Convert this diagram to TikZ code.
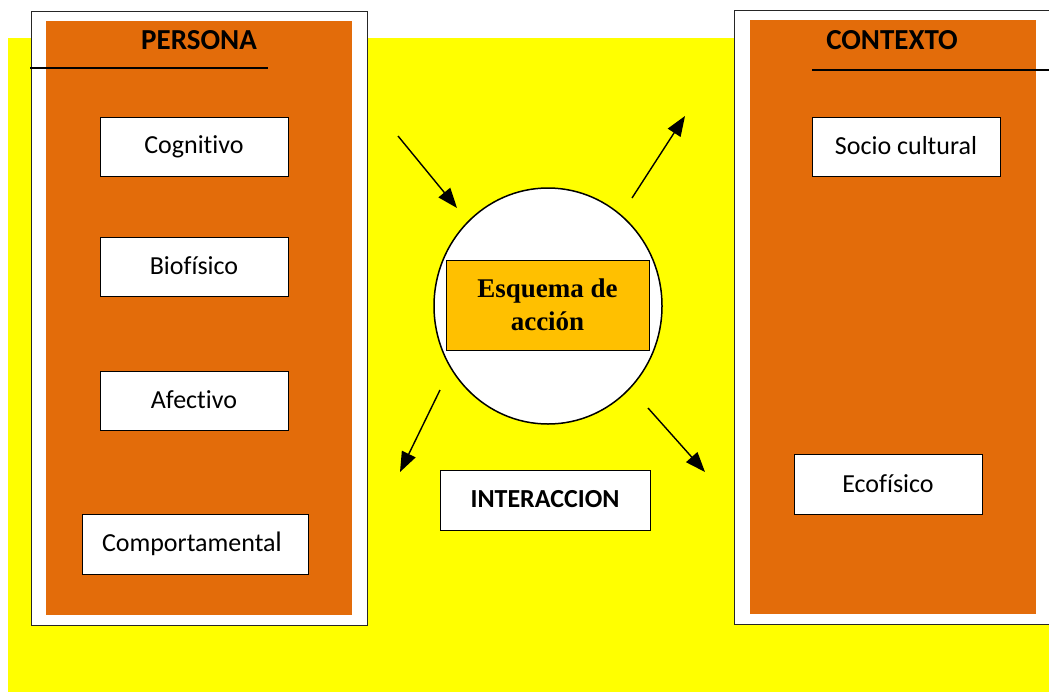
\documentclass[tikz,border=0pt]{standalone}
\usepackage{fontspec}
\setmainfont{Carlito}[Ligatures=NoCommon]
\newfontfamily\serifb{Liberation Serif}
\newfontfamily\arialf{Liberation Sans}
\usetikzlibrary{arrows.meta,shapes.geometric}
\definecolor{bgyellow}{HTML}{FFFF00}
\definecolor{panelorange}{HTML}{E36C0A}
\definecolor{goldbox}{HTML}{FFC000}
\tikzset{
  labelbox/.style={draw=black, line width=1pt, fill=white, rectangle, inner sep=0pt,
    minimum width=188pt, minimum height=59pt, font=\fontsize{26}{30}\selectfont},
  frame/.style={draw=black!85, line width=1pt, fill=white},
  panel/.style={fill=panelorange, draw=none},
  title/.style={font=\fontsize{29}{32}\selectfont\bfseries, inner sep=0pt},
  rule/.style={draw=black, line width=1.4pt},
  arr/.style={draw=black, line width=1.4pt, -{Triangle[length=20pt,width=15pt]}}
}
\begin{document}
\begin{tikzpicture}[x=1pt,y=-1pt]
\useasboundingbox (0,0) rectangle (1049,694);
% background
\fill[bgyellow] (8,38) rectangle (1049,692);
% left frame
\draw[frame] (31,11) rectangle (367,625);
\fill[panel] (46,21) rectangle (352,615);
% right frame
\draw[frame] (734,10) rectangle (1055,624);
\fill[panel] (750,20) rectangle (1036,614);
% titles
\node[title] (persona) at (199,40) {PERSONA};
\node[title] (contexto) at (892,40) {CONTEXTO};
\coordinate (pl1) at (30,68);
\coordinate (pl2) at (268,68);
\draw[rule] (pl1) -- (pl2);
\coordinate (cl1) at (812,70);
\coordinate (cl2) at (1049,70);
\draw[rule] (cl1) -- (cl2);
% left boxes
\node[labelbox] (cog) at (194,146.5) {\raisebox{1.5pt}{Cognitivo}};
\node[labelbox] (bio) at (194,266.5) {\raisebox{1.5pt}{Biofísico}};
\node[labelbox] (afe) at (194,400.5) {\raisebox{1.5pt}{Afectivo}};
\node[labelbox, minimum width=226pt, minimum height=60pt, text width=186pt, inner xsep=20pt, align=left] (comp) at (195,544) {Comportamenta{\arialf\fontsize{27}{30}\selectfont l}};
% right boxes
\node[labelbox] (soc) at (906,146.5) {\raisebox{1.5pt}{Socio cultural}};
\node[labelbox, minimum height=60pt] (eco) at (888,484) {\raisebox{1.5pt}{Ecofísico}};
% center
\node[ellipse, draw=black, line width=1.5pt, fill=white, minimum width=228pt, minimum height=236pt, inner sep=0pt] (circ) at (548,306) {};
\node[draw=black, line width=1pt, fill=goldbox, minimum width=203pt, minimum height=90pt, inner sep=0pt, align=center, font=\serifb\bfseries\fontsize{27}{31}\selectfont] (esq) at (547.5,305) {\raisebox{2pt}{Esquema de}\\acción};
\node[labelbox, minimum width=210pt, minimum height=60pt, font=\fontsize{26}{30}\selectfont\bfseries] (inter) at (545,500) {\raisebox{1.5pt}{INTERACCION}};
% arrows
\coordinate (a1s) at (398,136);
\coordinate (a1e) at (457,208);
\coordinate (a2s) at (632,198);
\coordinate (a2e) at (685,116);
\coordinate (a3s) at (440,390);
\coordinate (a3e) at (400,472);
\coordinate (a4s) at (648,408);
\coordinate (a4e) at (705,472);
\draw[arr] (a1s) -- (a1e);
\draw[arr] (a2s) -- (a2e);
\draw[arr] (a3s) -- (a3e);
\draw[arr] (a4s) -- (a4e);
\end{tikzpicture}
\end{document}
